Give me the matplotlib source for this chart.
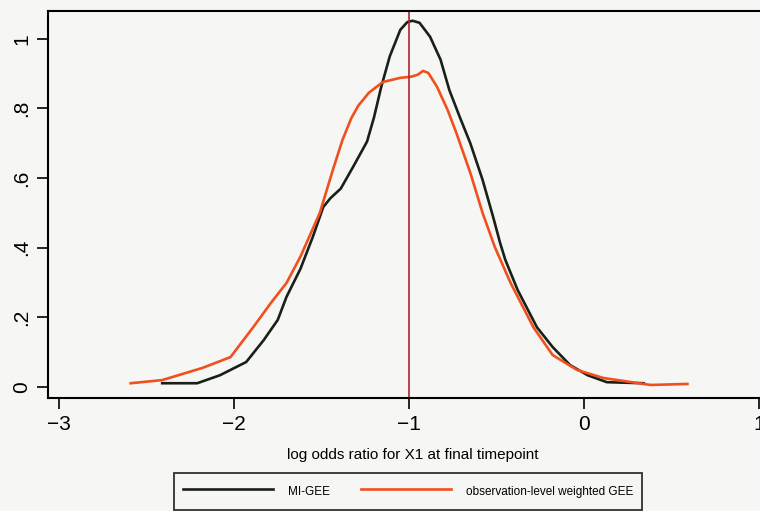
import matplotlib.pyplot as plt

# kernel density of the log odds ratio estimates, traced per method
mi_gee_x = [-2.41, -2.21, -2.08, -1.93, -1.83, -1.75, -1.70, -1.62, -1.55, -1.49,
            -1.45, -1.39, -1.32, -1.24, -1.20, -1.16, -1.11, -1.05, -1.01, -0.98,
            -0.94, -0.88, -0.82, -0.77, -0.71, -0.65, -0.58, -0.52, -0.48, -0.45,
            -0.38, -0.27, -0.18, -0.08, 0.02, 0.13, 0.34]
mi_gee_y = [0.011, 0.011, 0.034, 0.072, 0.135, 0.193, 0.259, 0.340, 0.431, 0.517,
            0.542, 0.570, 0.632, 0.705, 0.775, 0.860, 0.950, 1.026, 1.048, 1.052,
            1.046, 1.006, 0.940, 0.853, 0.775, 0.700, 0.595, 0.489, 0.414, 0.365,
            0.279, 0.172, 0.115, 0.063, 0.034, 0.014, 0.011]

wgee_x = [-2.59, -2.41, -2.18, -2.02, -1.89, -1.79, -1.70, -1.62, -1.51, -1.43,
          -1.38, -1.33, -1.29, -1.23, -1.15, -1.05, -0.99, -0.95, -0.92, -0.89,
          -0.84, -0.78, -0.73, -0.65, -0.58, -0.51, -0.42, -0.29, -0.18, -0.04,
          0.11, 0.38, 0.59]
wgee_y = [0.011, 0.020, 0.055, 0.086, 0.172, 0.241, 0.299, 0.375, 0.500, 0.632,
          0.710, 0.772, 0.808, 0.845, 0.876, 0.888, 0.891, 0.897, 0.908, 0.902,
          0.862, 0.796, 0.730, 0.615, 0.500, 0.402, 0.299, 0.172, 0.092, 0.049,
          0.026, 0.006, 0.009]

true_value = -1
x_ticks = [-3, -2, -1, 0, 1]
y_ticks = [0, 0.2, 0.4, 0.6, 0.8, 1]
y_labels = ['0', '.2', '.4', '.6', '.8', '1']

bg = '#f6f6f4'
plt.rcParams['font.family'] = ['Liberation Sans', 'DejaVu Sans']

fig = plt.figure(figsize=(7.6, 5.11), dpi=100, facecolor=bg)
ax = fig.add_axes([0.063, 0.221, 0.959, 0.7575], facecolor=bg)

ax.plot(mi_gee_x, mi_gee_y, color='#172117', lw=1.9, solid_joinstyle='round',
        label='MI-GEE')
ax.plot(wgee_x, wgee_y, color='#f0501e', lw=1.9, solid_joinstyle='round',
        label='observation-level weighted GEE')
ax.axvline(true_value, color='#b3242a', lw=1.2)

ax.set_xlim(-3.063, 1.1)
ax.set_ylim(-0.0316, 1.08)
ax.set_xticks(x_ticks)
ax.set_yticks(y_ticks)
ax.set_yticklabels(y_labels, rotation=90, va='center')
ax.tick_params(axis='both', direction='out', length=8, width=1.2, labelsize=15, pad=4)
for s in ax.spines.values():
    s.set_linewidth(1.5)
ax.spines['right'].set_visible(False)

ax.set_xlabel('log odds ratio for X1 at final timepoint',
              family=['Liberation Sans Narrow', 'Liberation Sans'], fontsize=11, labelpad=10)

leg = fig.legend(loc='upper left', bbox_to_anchor=(174 / 760, 1 - 473 / 511), ncol=2,
                 borderaxespad=0, frameon=True, fancybox=False, edgecolor='black',
                 facecolor=bg,
                 prop={'family': ['Liberation Sans Narrow', 'Liberation Sans'], 'size': 8.5},
                 handlelength=7.6, handleheight=2.0, columnspacing=2.6,
                 borderpad=0.8, handletextpad=1.27)
leg.get_frame().set_linewidth(1.3)

fig.savefig('out.png', dpi=100, facecolor=bg)
